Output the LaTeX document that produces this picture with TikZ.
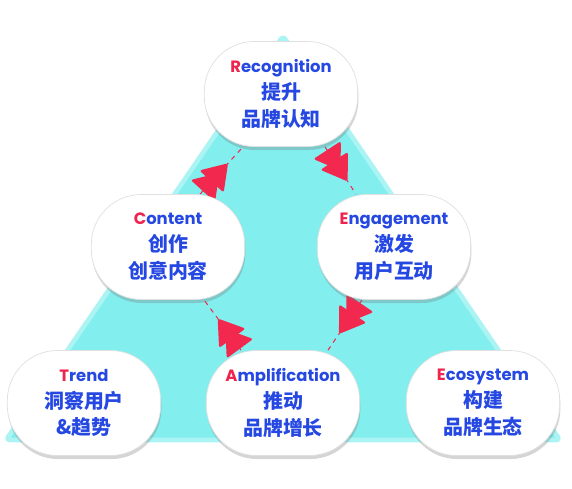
\documentclass[tikz,border=0pt]{standalone}
\usepackage{fontspec}
\setmainfont{Poppins}
\newfontfamily\cjk{Noto Sans CJK SC}
\newfontfamily\latinf{Poppins}
\usetikzlibrary{shadows,decorations.markings,calc}
\definecolor{tblue}{RGB}{38,72,226}
\definecolor{tred}{RGB}{238,36,78}
\definecolor{arrowred}{RGB}{242,40,78}
\definecolor{cyanin}{RGB}{130,238,238}
\definecolor{cyanrim}{RGB}{172,244,244}
\pgfdeclarelayer{bg}
\pgfsetlayers{bg,main}
\newcommand{\entitle}[2]{{\latinf\bfseries\fontsize{14}{23}\selectfont\textcolor{tred}{#1}#2}}

\begin{document}
\begin{tikzpicture}[x=0.03cm,y=-0.03cm,
  blob/.style={draw=black!12,line width=0.6pt,fill=white,rounded corners=1.5cm,
    minimum width=4.6cm,minimum height=3.15cm,align=center,text=tblue,
    font=\cjk\bfseries\fontsize{17}{23}\selectfont,
    drop shadow={shadow xshift=0.6pt,shadow yshift=-3pt,fill=black!55,opacity=.3}},
  flow/.style={arrowred,line width=0.9pt,dash pattern=on 4pt off 4pt},
  ffarrow/.style={postaction={decorate},decoration={markings,mark=at position #1 with {
    \fill[arrowred,rounded corners=2pt] (-16pt,-14pt) -- (5pt,0pt) -- (-16pt,14pt) -- cycle;
    \fill[arrowred,rounded corners=2pt] (-5pt,-14pt) -- (16pt,0pt) -- (-5pt,14pt) -- cycle;}}}]
  \useasboundingbox (0,0) rectangle (572,489);
  \begin{pgfonlayer}{bg}
    \draw[fill=cyanin,draw=cyanrim,line width=4pt,line join=round,rounded corners=3pt]
      (283,36) -- (560,440) -- (6,440) -- cycle;
  \end{pgfonlayer}

  \node[blob] (recog) at (281,94) {\entitle{R}{ecognition}\\提升\\品牌认知};
  \node[blob] (content) at (168,247) {\entitle{C}{ontent}\\创作\\创意内容};
  \node[blob] (engage) at (394,247) {\entitle{E}{ngagement}\\激发\\用户互动};
  \node[blob] (trend) at (84,403) {\entitle{T}{rend}\\洞察用户\\\&趋势};
  \node[blob] (amplify) at (283,403) {\entitle{A}{mplification}\\推动\\品牌增长};
  \node[blob] (eco) at (483,403) {\entitle{E}{cosystem}\\构建\\品牌生态};

  \begin{pgfonlayer}{bg}
    \draw[flow,ffarrow=0.36] ($(content.north)+(32,0)$) -- ($(recog.south)+(-38,0)$);
    \draw[flow,ffarrow=0.40] ($(recog.south)+(44,0)$) -- ($(engage.north)+(-38,0)$);
    \draw[flow,ffarrow=0.37] ($(engage.south)+(-32,0)$) -- ($(amplify.north)+(45,0)$);
    \draw[flow,ffarrow=0.33] ($(amplify.north)+(-42,0)$) -- ($(content.south)+(36,0)$);
  \end{pgfonlayer}
\end{tikzpicture}
\end{document}
